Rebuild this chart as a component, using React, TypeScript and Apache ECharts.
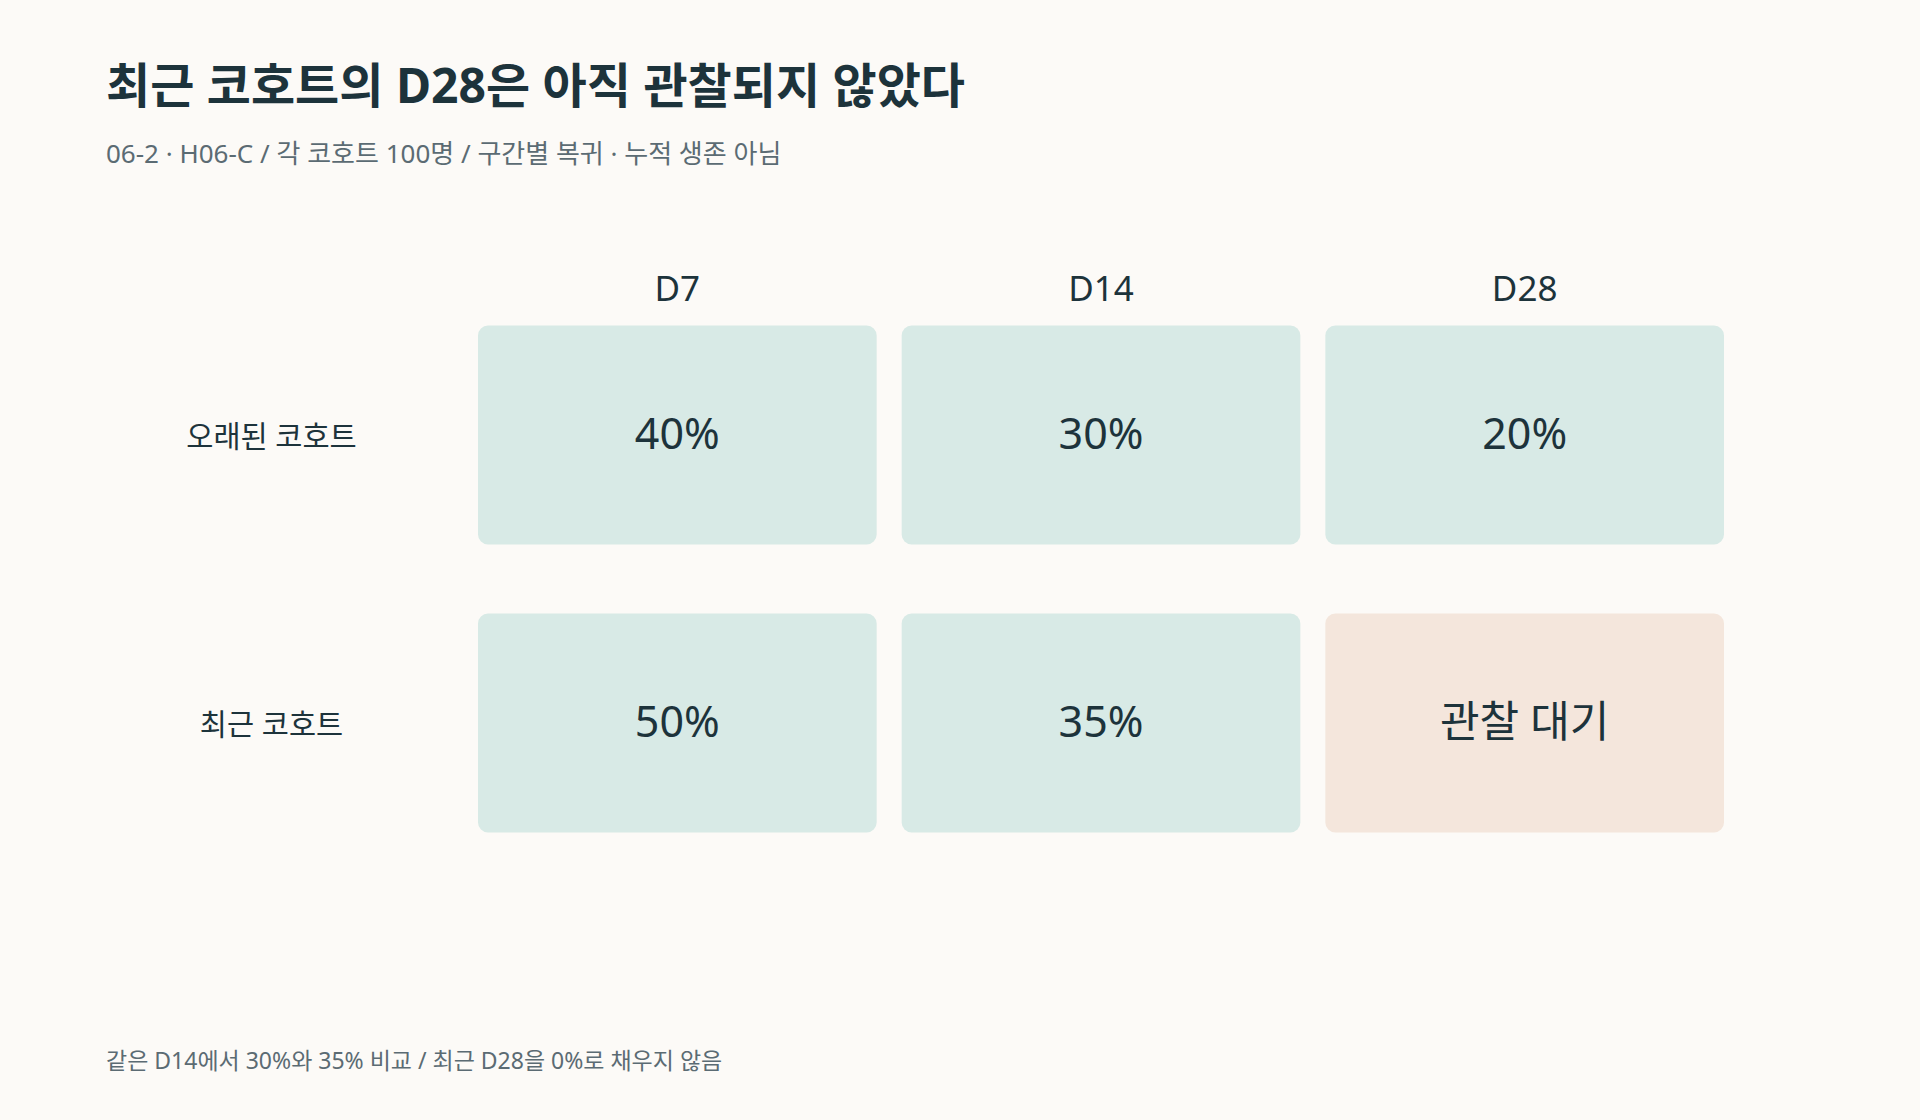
import { useEffect, useRef } from 'react';
import * as echarts from 'echarts';

const columns = ['D7', 'D14', 'D28'];
const cohorts = ['오래된 코호트', '최근 코호트'];
const oldCohort = [40, 30, 20];
const recentCohort: (number | null)[] = [50, 35, null];
const pendingLabel = '관찰 대기';

const titleText = '최근 코호트의 D28은 아직 관찰되지 않았다';
const subtitleText = '06-2 · H06-C / 각 코호트 100명 / 구간별 복귀 · 누적 생존 아님';
const footerText = '같은 D14에서 30%와 35% 비교 / 최근 D28을 0%로 채우지 않음';

const FONT = '"Noto Sans", "Noto Sans CJK KR", sans-serif';
const INK = '#1d333b';
const MUTED = '#5b6b73';
const BG = '#fcfaf7';
const CELL = '#d8eae6';
const PENDING = '#f4e6dc';

export default function App() {
  const chartRef = useRef<HTMLDivElement>(null);

  useEffect(() => {
    document.body.style.margin = '0';
    if (!chartRef.current) return;
    const chart = echarts.init(chartRef.current, undefined, { renderer: 'svg' });

    const cells: any[] = [];
    [oldCohort, recentCohort].forEach((row, r) => {
      row.forEach((v, c) => cells.push([c, r, v]));
    });

    const option: echarts.EChartsOption = {
      animation: false,
      backgroundColor: BG,
      textStyle: { fontFamily: FONT },
      grid: { left: 465.5, right: 183.5, top: 291, bottom: 253 },
      xAxis: {
        type: 'category',
        position: 'top',
        offset: -22,
        data: columns,
        axisLine: { show: false },
        axisTick: { show: false },
        splitLine: { show: false },
        axisLabel: { color: INK, fontSize: 35, fontFamily: FONT, margin: 8 },
      },
      yAxis: {
        type: 'category',
        inverse: true,
        data: cohorts,
        axisLine: { show: false },
        axisTick: { show: false },
        splitLine: { show: false },
        axisLabel: { color: INK, fontSize: 29.5, fontFamily: FONT, margin: 194, align: 'center' },
      },
      graphic: [
        {
          type: 'text', x: 106, y: 84,
          style: { text: titleText, fill: INK, fontSize: 48, fontWeight: 'bold', fontFamily: FONT, align: 'left', verticalAlign: 'middle' },
        },
        {
          type: 'text', x: 106, y: 153,
          style: { text: subtitleText, fill: MUTED, fontSize: 26, fontFamily: FONT, align: 'left', verticalAlign: 'middle' },
        },
        {
          type: 'text', x: 106, y: 1060,
          style: { text: footerText, fill: MUTED, fontSize: 23, fontFamily: FONT, align: 'left', verticalAlign: 'middle' },
        },
      ],
      series: [
        {
          type: 'custom',
          data: cells,
          encode: { x: 0, y: 1 },
          renderItem: (params: any, api: any) => {
            const c = api.coord([api.value(0), api.value(1)]);
            const s = api.size([1, 1]);
            const w = s[0] - 25;
            const h = s[1] - 69;
            const raw = cells[params.dataIndex][2];
            const pending = raw == null;
            return {
              type: 'group',
              children: [
                {
                  type: 'rect',
                  shape: { x: c[0] - w / 2, y: c[1] - h / 2, width: w, height: h, r: 10 },
                  style: { fill: pending ? PENDING : CELL },
                },
                {
                  type: 'text',
                  x: c[0],
                  y: c[1] - 3,
                  style: {
                    text: pending ? pendingLabel : raw + '%',
                    fill: INK,
                    fontSize: 43,
                    fontFamily: FONT,
                    align: 'center',
                    verticalAlign: 'middle',
                  },
                },
              ],
            };
          },
        },
      ],
    };

    chart.setOption(option);
    return () => chart.dispose();
  }, []);

  return <div ref={chartRef} style={{ width: 1920, height: 1120 }} />;
}
